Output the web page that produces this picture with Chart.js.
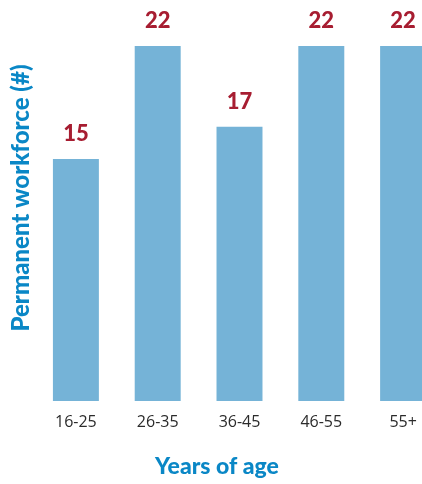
<!DOCTYPE html>
<html>
<head>
<meta charset="utf-8">
<script src="https://cdn.jsdelivr.net/npm/chart.js@4/dist/chart.umd.min.js"></script>
<style>
  html, body { margin: 0; padding: 0; background: #fff; overflow: hidden; }
  #wrap { position: relative; width: 422px; height: 484px; overflow: hidden; }
  canvas { position: absolute; left: 0; top: 0; }
</style>
</head>
<body>
<div id="wrap"><canvas id="ageChart" width="450" height="484"></canvas></div>
<script>
// Data
const categories = ['16-25', '26-35', '36-45', '46-55', '55+'];
const workforce = [15, 22, 17, 22, 22];
const yTitle = 'Permanent workforce (#)';
const xTitle = 'Years of age';

// Colours
const BAR_COLOR = '#75b3d7';
const VALUE_COLOR = '#a71d31';
const TITLE_COLOR = '#0a87c6';

// Value labels above each bar
const valueLabels = {
    id: 'valueLabels',
    afterDatasetsDraw(chart) {
        const ctx = chart.ctx;
        const meta = chart.getDatasetMeta(0);
        ctx.save();
        ctx.font = '900 22px Lato';
        ctx.fillStyle = VALUE_COLOR;
        ctx.textAlign = 'center';
        ctx.textBaseline = 'alphabetic';
        meta.data.forEach((bar, i) => {
            ctx.fillText(String(workforce[i]), bar.x, bar.y - 18);
        });
        ctx.restore();
    }
};

// Axis titles (placed as in the original, not centred on the plot)
const axisTitles = {
    id: 'axisTitles',
    afterDraw(chart) {
        const ctx = chart.ctx;
        ctx.save();
        ctx.fillStyle = TITLE_COLOR;
        ctx.textAlign = 'center';
        ctx.textBaseline = 'middle';
        ctx.font = '900 23px Lato';
        ctx.fillText(xTitle, 217, 467);
        ctx.font = '900 24px Lato';
        ctx.translate(21, 198);
        ctx.rotate(-Math.PI / 2);
        ctx.fillText(yTitle, 0, 0);
        ctx.restore();
    }
};

const ageChart = new Chart(document.getElementById('ageChart'), {
    type: 'bar',
    data: {
        labels: categories,
        datasets: [{
            data: workforce,
            backgroundColor: BAR_COLOR,
            borderWidth: 0,
            categoryPercentage: 1,
            barPercentage: 0.562
        }]
    },
    options: {
        responsive: false,
        animation: false,
        layout: { padding: { left: 35, right: 6, top: 46, bottom: 0 } },
        plugins: {
            legend: { display: false },
            tooltip: { enabled: false }
        },
        scales: {
            x: {
                grid: { display: false, drawTicks: false },
                border: { display: false },
                ticks: {
                    color: '#2b2b2b',
                    padding: 12,
                    font: { family: 'Open Sans', size: 16 }
                },
                afterFit(scale) { scale.height = 83; }
            },
            y: {
                display: false,
                min: 0,
                max: 22
            }
        }
    },
    plugins: [valueLabels, axisTitles]
});
</script>
</body>
</html>
